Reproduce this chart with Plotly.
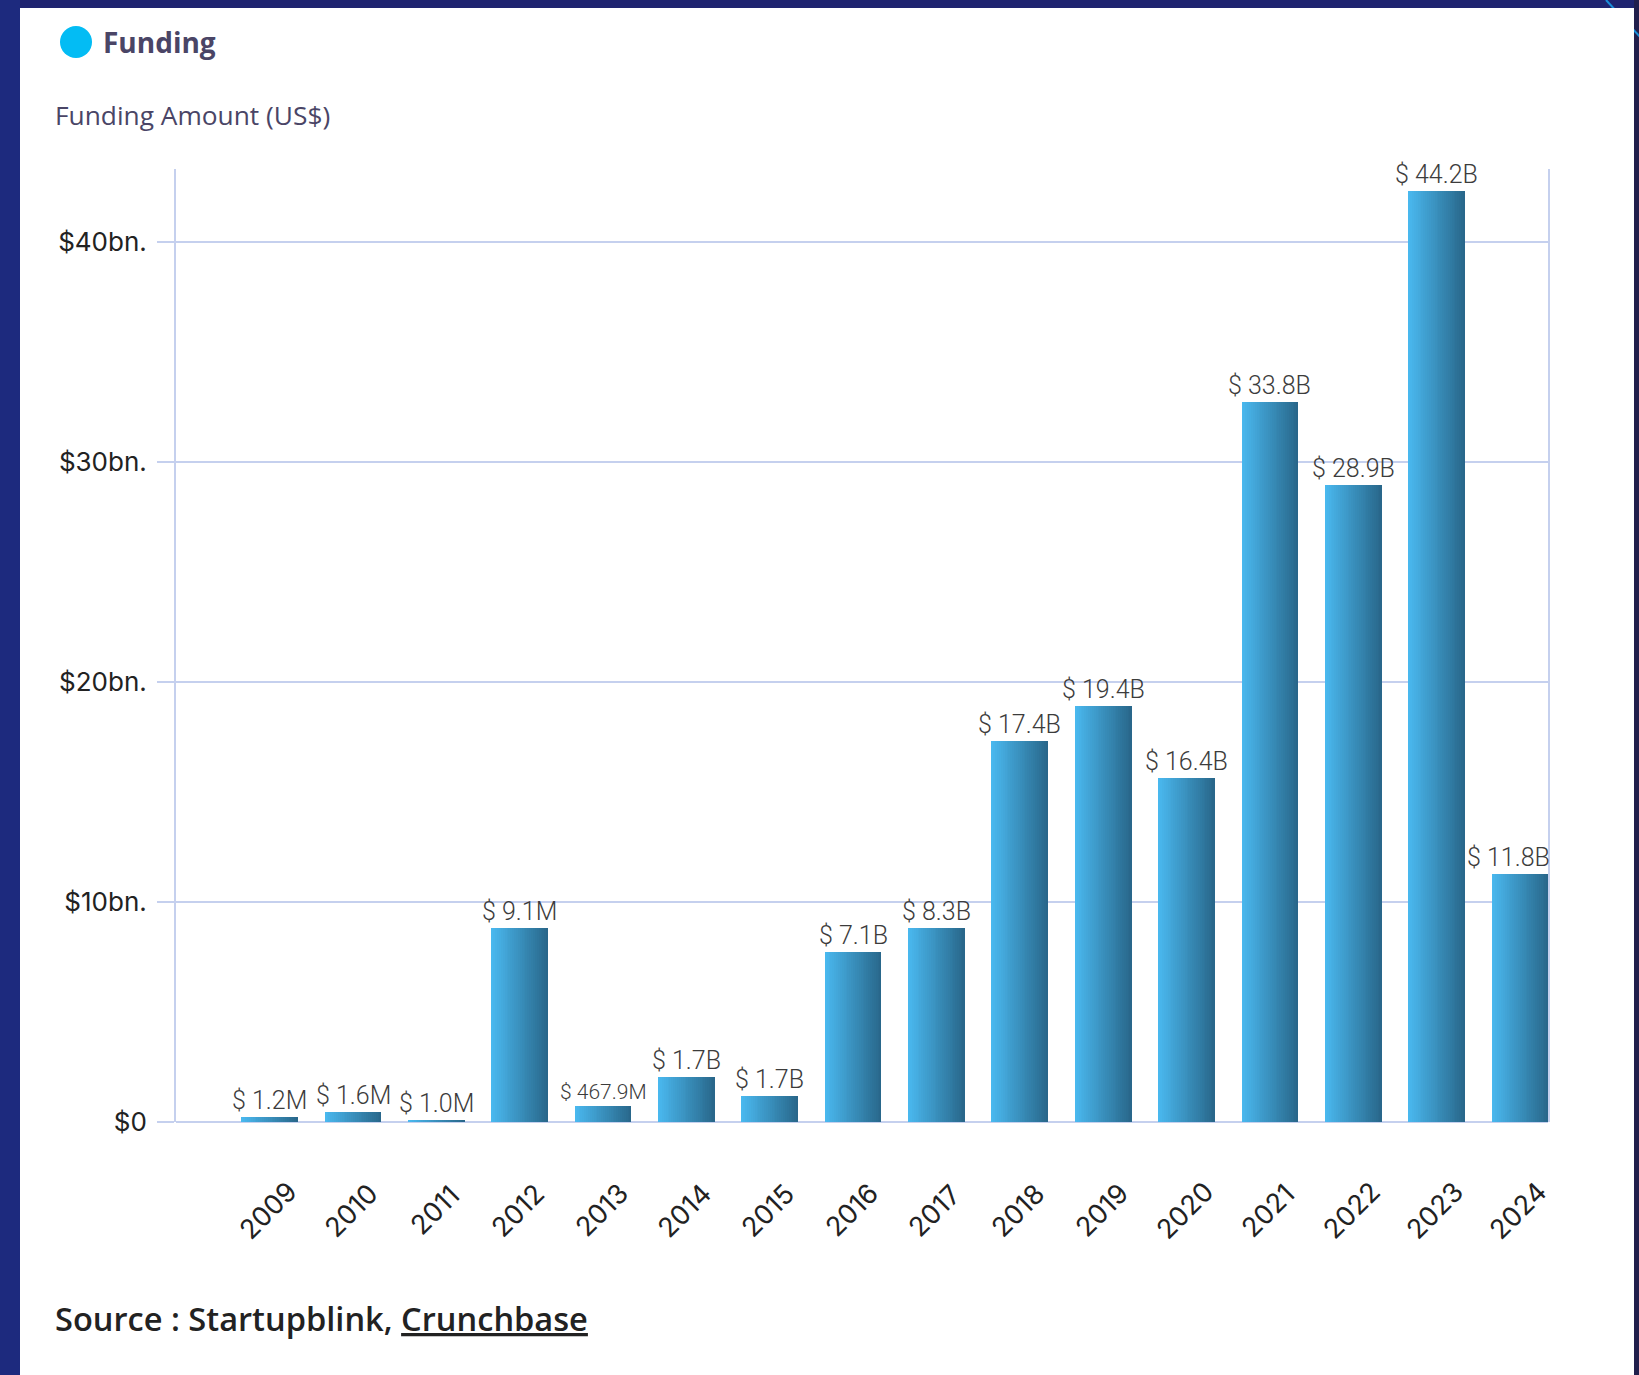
import plotly.graph_objects as go

# ---- data -------------------------------------------------------------
years = [2009, 2010, 2011, 2012, 2013, 2014, 2015, 2016,
         2017, 2018, 2019, 2020, 2021, 2022, 2023, 2024]
funding_bn = [0.21, 0.44, 0.08, 8.80, 0.71, 2.03, 1.17, 7.71,
              8.80, 17.30, 18.89, 15.62, 32.70, 28.93, 42.28, 11.25]
value_labels = ["$ 1.2M", "$ 1.6M", "$ 1.0M", "$ 9.1M", "$ 467.9M", "$ 1.7B",
                "$ 1.7B", "$ 7.1B", "$ 8.3B", "$ 17.4B", "$ 19.4B", "$ 16.4B",
                "$ 33.8B", "$ 28.9B", "$ 44.2B", "$ 11.8B"]
y_tick_values = [0, 10, 20, 30, 40]
y_tick_labels = ["$0", "$10bn.", "$20bn.", "$30bn.", "$40bn."]

# ---- page geometry ----------------------------------------------------
W, H = 1639, 1375
ML, MR, MT, MB = 176, 91, 169, 253
PW, PH = W - ML - MR, H - MT - MB
X_RANGE = [2007.876, 2024.337]


def px_x(p):
    return (p - ML) / PW


def px_y(p):
    return (H - MB - p) / PH


GRID = "#c5d0ee"
TEXT_DARK = "#222222"
TITLE_CLR = "#4a4566"
LABEL_CLR = "#3c3c3c"

fig = go.Figure()

# ---- gradient bars: overlapping strips shading left (light) to right (dark)
BAR_W = 0.68
N_STRIPS = 30
c_left = (74, 185, 240)
c_right = (40, 102, 137)
for k in range(N_STRIPS):
    t = (k + 0.5) / N_STRIPS
    col = tuple(round(a + (b - a) * t) for a, b in zip(c_left, c_right))
    start = -BAR_W / 2 + k * BAR_W / N_STRIPS
    fig.add_trace(go.Bar(
        x=years, y=funding_bn,
        offset=start, width=BAR_W / 2 - start,
        marker=dict(color="rgb(%d,%d,%d)" % col, line=dict(width=0)),
        showlegend=False, hoverinfo="skip",
    ))

annotations = []

# value labels sitting on top of each bar; a label that would run past the
# right edge of the plot is right-aligned to the plot edge instead
for yr, v, lab in zip(years, funding_bn, value_labels):
    at_edge = yr + BAR_W / 2 >= X_RANGE[1] - 0.01
    annotations.append(dict(
        text=lab, x=(X_RANGE[1] - 0.002) if at_edge else yr, xref="x",
        y=v, yref="y", xanchor="right" if at_edge else "center",
        xshift=4 if at_edge else 0,
        yanchor="bottom", yshift=0, showarrow=False,
        font=dict(family="Roboto", size=21 if len(lab) > 7 else 25,
                  color=LABEL_CLR, weight=300),
    ))

# ---- page frame and legend marker -------------------------------------
shapes = [
    dict(type="rect", xref="paper", yref="paper", layer="below",
         x0=px_x(20), x1=px_x(W), y0=px_y(0), y1=px_y(8),
         fillcolor="#1f2470", line=dict(width=0)),
    dict(type="rect", xref="paper", yref="paper", layer="below",
         x0=px_x(1634), x1=px_x(W), y0=px_y(0), y1=px_y(H),
         fillcolor="#211f4c", line=dict(width=0)),
    dict(type="line", xref="paper", yref="paper", layer="below",
         x0=px_x(1606), x1=px_x(1641), y0=px_y(0), y1=px_y(38),
         line=dict(color="#1a8fd8", width=2)),
    dict(type="rect", xref="paper", yref="paper", layer="below",
         x0=px_x(20), x1=px_x(1634), y0=px_y(8), y1=px_y(H),
         fillcolor="white", line=dict(width=0)),
    dict(type="circle", xref="paper", yref="paper",
         xsizemode="pixel", ysizemode="pixel",
         xanchor=px_x(76), yanchor=px_y(42),
         x0=-16, x1=16, y0=-16, y1=16,
         fillcolor="#03bcf4", line=dict(width=0)),
]

annotations += [
    dict(text="Funding", xref="paper", yref="paper",
         x=px_x(101), y=px_y(42), xanchor="left", yanchor="middle",
         showarrow=False,
         font=dict(family="Open Sans", size=28, color=TITLE_CLR, weight=700)),
    dict(text="Funding Amount (US$)", xref="paper", yref="paper",
         x=px_x(53), y=px_y(115), xanchor="left", yanchor="middle",
         showarrow=False,
         font=dict(family="Open Sans", size=26.3, color=TITLE_CLR)),
    dict(text="Source : Startupblink, <u>Crunchbase</u>", xref="paper", yref="paper",
         x=px_x(53), y=px_y(1318), xanchor="left", yanchor="middle",
         showarrow=False,
         font=dict(family="Open Sans", size=32.6, color=TEXT_DARK, weight=600)),
]

# rotated year labels centred under each bar
for yr in years:
    annotations.append(dict(
        text=str(yr), x=yr, xref="x", y=px_y(1210), yref="paper",
        xshift=-2, textangle=-45, showarrow=False,
        xanchor="center", yanchor="middle",
        font=dict(family="Inter", size=27, color=TEXT_DARK),
    ))

fig.update_layout(
    width=W, height=H,
    margin=dict(l=ML, r=MR, t=MT, b=MB, pad=0),
    paper_bgcolor="#1d2a7e",
    plot_bgcolor="rgba(0,0,0,0)",
    barmode="overlay",
    bargap=0,
    shapes=shapes,
    annotations=annotations,
    showlegend=False,
    xaxis=dict(
        range=X_RANGE,
        showgrid=False, zeroline=False, showline=False,
        showticklabels=False, ticks="",
    ),
    yaxis=dict(
        range=[0, 43.3],
        tickvals=y_tick_values, ticktext=y_tick_labels,
        tickfont=dict(family="Inter", size=26, color=TEXT_DARK),
        showgrid=True, gridcolor=GRID, gridwidth=2,
        zeroline=True, zerolinecolor=GRID, zerolinewidth=2,
        showline=True, mirror=True, linecolor=GRID, linewidth=2,
        ticks="outside", ticklen=17, tickwidth=2, tickcolor=GRID,
        ticklabelstandoff=5,
    ),
)

fig.write_html("out.html")
